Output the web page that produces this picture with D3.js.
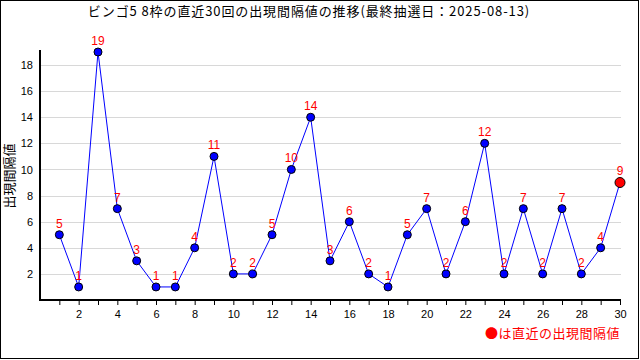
<!DOCTYPE html>
<html>
<head>
<meta charset="utf-8">
<script src="https://cdn.jsdelivr.net/npm/d3@7"></script>
<style>
  body { margin: 0; background: #fff; }
  text { font-family: "Liberation Sans", "Noto Sans CJK JP", sans-serif; }
  .jp { font-family: "Noto Sans CJK JP", sans-serif; }
</style>
</head>
<body>
<svg width="640" height="360"></svg>
<script>
var title = "ビンゴ5 8枠の直近30回の出現間隔値の推移(最終抽選日：2025-08-13)";
var yLabel = "出現間隔値";
var legendText = "●は直近の出現間隔値";

// draw number (1..30) and interval value
var draws = d3.range(1, 31);
var intervals = [5, 1, 19, 7, 3, 1, 1, 4, 11, 2, 2, 5, 10, 14, 3, 6, 2, 1, 5, 7, 2, 6, 12, 2, 7, 2, 7, 2, 4, 9];
var yTicks = [2, 4, 6, 8, 10, 12, 14, 16, 18];

var svg = d3.select("svg"),
  width = +svg.attr("width"),
  height = +svg.attr("height");

var plotL = 40, plotR = 620, plotT = 52, plotB = 300;

var x = d3.scaleLinear().domain([0, 30]).range([plotL, plotR]);
var y = d3.scaleLinear().domain([0, 19]).range([plotB, plotT]);

svg.append("rect")
  .attr("x", 0.5).attr("y", 0.5)
  .attr("width", 638).attr("height", 358)
  .attr("fill", "#fff")
  .attr("stroke", "#000");

svg.append("text")
  .attr("class", "jp")
  .attr("x", 309)
  .attr("y", 16)
  .attr("text-anchor", "middle")
  .attr("font-size", 13)
  .attr("letter-spacing", 0.9)
  .attr("fill", "#000")
  .text(title);

// gridlines
svg.append("g")
  .selectAll("line")
  .data(yTicks)
  .enter().append("line")
  .attr("x1", plotL)
  .attr("x2", plotR + 1)
  .attr("y1", function (d) { return Math.round(y(d)) + 0.5; })
  .attr("y2", function (d) { return Math.round(y(d)) + 0.5; })
  .attr("stroke", "#d8d8d8");

// y axis
var yAxis = svg.append("g")
  .attr("transform", "translate(" + plotL + ",0)")
  .call(d3.axisLeft(y).tickValues(yTicks).tickSize(0).tickPadding(7));
yAxis.select(".domain").remove();
yAxis.selectAll("text").attr("font-size", 11).attr("fill", "#000")
  .style("font-family", "'Liberation Sans', sans-serif");
svg.append("line")
  .attr("x1", plotL).attr("x2", plotL)
  .attr("y1", plotT - 2).attr("y2", plotB + 1)
  .attr("stroke", "#000").attr("stroke-width", 2);

// x axis
var xAxis = svg.append("g")
  .attr("transform", "translate(0," + plotB + ")")
  .call(d3.axisBottom(x).tickValues(draws).tickSize(5).tickPadding(5)
    .tickFormat(function (d) { return d % 2 === 0 ? d : ""; }));
xAxis.select(".domain").remove();
xAxis.selectAll("line").attr("stroke", "#000");
xAxis.selectAll("text").attr("font-size", 11).attr("fill", "#000")
  .style("font-family", "'Liberation Sans', sans-serif");
svg.append("line")
  .attr("x1", plotL - 1).attr("x2", plotR + 1)
  .attr("y1", plotB).attr("y2", plotB)
  .attr("stroke", "#000").attr("stroke-width", 2);

svg.append("text")
  .attr("class", "jp")
  .attr("transform", "translate(14," + ((plotT + plotB) / 2) + ") rotate(-90)")
  .attr("text-anchor", "middle")
  .attr("font-size", 13)
  .attr("fill", "#000")
  .text(yLabel);

// line
var line = d3.line()
  .x(function (d, i) { return x(draws[i]); })
  .y(function (d) { return y(d); });

svg.append("path")
  .datum(intervals)
  .attr("fill", "none")
  .attr("stroke", "#0000ff")
  .attr("stroke-width", 1)
  .attr("d", line);

var last = intervals.length - 1;

svg.append("g")
  .selectAll("circle")
  .data(intervals)
  .enter().append("circle")
  .attr("cx", function (d, i) { return x(draws[i]); })
  .attr("cy", function (d) { return y(d); })
  .attr("r", function (d, i) { return i === last ? 5 : 4; })
  .attr("fill", function (d, i) { return i === last ? "#ff0000" : "#0000ff"; })
  .attr("stroke", "#000")
  .attr("stroke-width", 1);

svg.append("g")
  .selectAll("text")
  .data(intervals)
  .enter().append("text")
  .attr("x", function (d, i) { return x(draws[i]); })
  .attr("y", function (d, i) { return y(d) - (i === last ? 8 : 7); })
  .attr("text-anchor", "middle")
  .attr("font-size", 12)
  .attr("fill", "#ff0000")
  .text(function (d) { return d; });

svg.append("text")
  .attr("class", "jp")
  .attr("x", plotR)
  .attr("y", 338)
  .attr("text-anchor", "end")
  .attr("font-size", 13)
  .attr("letter-spacing", 0.5)
  .attr("fill", "#ff0000")
  .text(legendText);
</script>
</body>
</html>
